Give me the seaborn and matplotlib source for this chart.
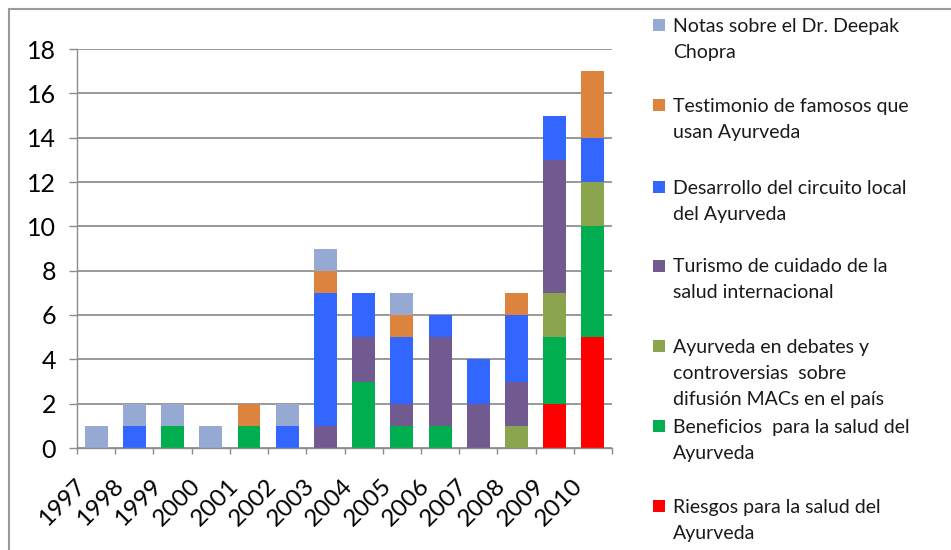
import matplotlib
matplotlib.use("Agg")
import matplotlib.pyplot as plt
import matplotlib.transforms as mtransforms
from matplotlib.patches import Rectangle
from matplotlib.ticker import FixedLocator, NullFormatter
import seaborn as sns
import pandas as pd
import numpy as np

years = ["1997", "1998", "1999", "2000", "2001", "2002", "2003",
         "2004", "2005", "2006", "2007", "2008", "2009", "2010"]

# series from bottom of the stack to the top
riesgos    = [0, 0, 0, 0, 0, 0, 0, 0, 0, 0, 0, 0, 2, 5]
beneficios = [0, 0, 1, 0, 1, 0, 0, 3, 1, 1, 0, 0, 3, 5]
debates    = [0, 0, 0, 0, 0, 0, 0, 0, 0, 0, 0, 1, 2, 2]
turismo    = [0, 0, 0, 0, 0, 0, 1, 2, 1, 4, 2, 2, 6, 0]
desarrollo = [0, 1, 0, 0, 0, 1, 6, 2, 3, 1, 2, 3, 2, 2]
testimonio = [0, 0, 0, 0, 1, 0, 1, 0, 1, 0, 0, 1, 0, 3]
notas      = [1, 1, 1, 1, 0, 1, 1, 0, 1, 0, 0, 0, 0, 0]

series_names = [
    "Riesgos para la salud del\nAyurveda",
    "Beneficios  para la salud del\nAyurveda",
    "Ayurveda en debates y\ncontroversias  sobre\ndifusión MACs en el país",
    "Turismo de cuidado de la\nsalud internacional",
    "Desarrollo del circuito local\ndel Ayurveda",
    "Testimonio de famosos que\nusan Ayurveda",
    "Notas sobre el Dr. Deepak\nChopra",
]
series_values = [riesgos, beneficios, debates, turismo, desarrollo, testimonio, notas]
colors = ["#FF0000", "#00AE50", "#8BA44E", "#705A8F", "#3366FF", "#DC843E", "#95A9D2"]

sns.set_style("white")
plt.rcParams["font.family"] = ["Lato", "DejaVu Sans"]

W, H = 951, 550
fig = plt.figure(figsize=(W / 100, H / 100), dpi=100)
ax = fig.add_axes([77 / W, 1 - 448 / H, (612 - 77) / W, (448 - 49) / H])

# stacked bars: draw cumulative totals from the top layer down
cum = np.cumsum(np.array(series_values), axis=0)
for i in range(len(series_values) - 1, -1, -1):
    df = pd.DataFrame({"year": years, "value": cum[i]})
    sns.barplot(data=df, x="year", y="value", color=colors[i], width=0.6,
                saturation=1, ax=ax, zorder=3, linewidth=0)

ax.set_xlim(-0.5, len(years) - 0.5)
ax.set_ylim(0, 18)
ax.set_yticks(range(0, 19, 2))
ax.set_xlabel("")
ax.set_ylabel("")
ax.yaxis.grid(True, color="#999999", linewidth=1.4, zorder=0)
ax.xaxis.grid(False)
for s in ["top", "right"]:
    ax.spines[s].set_visible(False)
for s in ["left", "bottom"]:
    ax.spines[s].set_color("#8c8c8c")
    ax.spines[s].set_linewidth(1)
ax.spines["bottom"].set_zorder(4)

ax.tick_params(axis="y", length=6, color="#8c8c8c", width=1, pad=9,
               labelsize=18, labelcolor="black", left=True)
ax.xaxis.set_minor_locator(FixedLocator(np.arange(-0.5, len(years), 1)))
ax.xaxis.set_minor_formatter(NullFormatter())
ax.tick_params(axis="x", which="minor", length=4.5, color="#8c8c8c", width=1, bottom=True)
ax.tick_params(axis="x", which="major", length=0, pad=25, labelsize=17.5, labelcolor="black")

# rotated year labels, shifted left of the bar centres
offset = mtransforms.ScaledTranslation(-14 / 100, 0, fig.dpi_scale_trans)
for lab in ax.get_xticklabels():
    lab.set_rotation(45)
    lab.set_ha("right")
    lab.set_va("center")
    lab.set_rotation_mode("anchor")
    lab.set_transform(lab.get_transform() + offset)

# chart frame
fig.patches.append(Rectangle((9 / W, -0.05), 1.1, 1 - 9 / H + 0.05,
                             transform=fig.transFigure, fill=False,
                             edgecolor="#9a9a9a", linewidth=1.5))

# legend (Excel style: square beside first line, top item first)
leg_center = [25, 105, 187, 265.5, 346, 426, 506]
line_step = 26
order = list(range(len(series_names) - 1, -1, -1))
for ypix, i in zip(leg_center, order):
    fig.patches.append(Rectangle((653 / W, 1 - (ypix + 6) / H), 12 / W, 12 / H,
                                 transform=fig.transFigure, facecolor=colors[i],
                                 edgecolor="none"))
    for k, line in enumerate(series_names[i].split("\n")):
        fig.text(673 / W, 1 - (ypix + 7 + k * line_step) / H, line, fontsize=14,
                 va="baseline", ha="left", color="#1a1a1a")

fig.savefig("out.png", dpi=100)
